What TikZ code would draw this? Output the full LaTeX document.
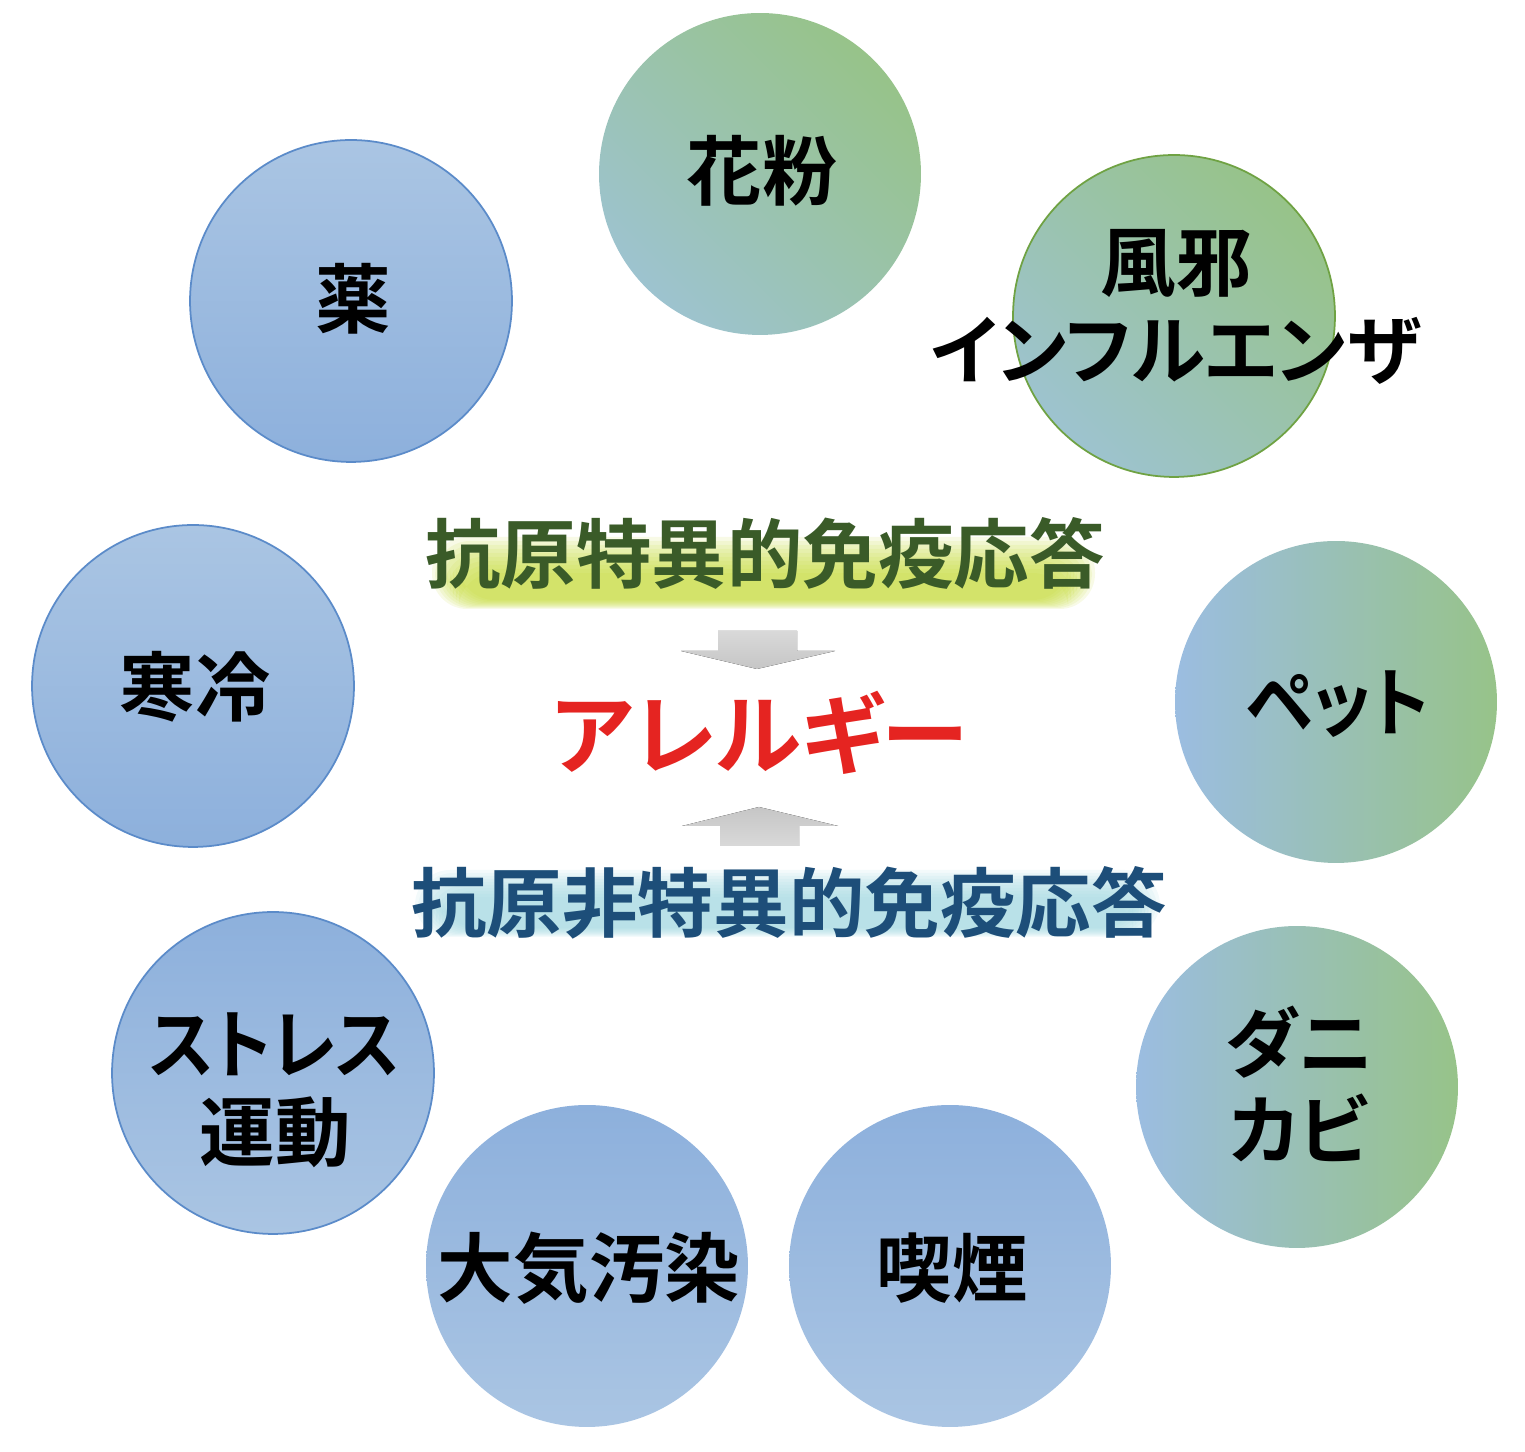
\documentclass[tikz,border=0pt]{standalone}
\usepackage{fontspec}
\setmainfont{Noto Sans CJK JP}[BoldFont={Noto Sans CJK JP Bold}, RawFeature=+palt]
\newfontfamily\narrowkana{Noto Sans CJK JP}[BoldFont={Noto Sans CJK JP Bold}, RawFeature=+palt, FakeStretch=0.91]
\definecolor{blueL}{HTML}{AAC5E3}
\definecolor{blueD}{HTML}{8DB0DC}
\definecolor{blueline}{HTML}{5B8BC9}
\definecolor{leafgreen}{HTML}{97C389}
\definecolor{teal}{HTML}{9DC3CF}
\definecolor{skyblue}{HTML}{9BBDE1}
\definecolor{kazeline}{HTML}{6FA243}
\definecolor{glowgreen}{HTML}{C2D932}
\definecolor{glowcyan}{HTML}{9ED6DF}
\definecolor{txtgreen}{HTML}{3A5B28}
\definecolor{txtblue}{HTML}{1D4E79}
\definecolor{txtred}{HTML}{E52421}
\begin{document}
\begin{tikzpicture}[x = 0.02cm, y = 0.02cm,
	ball/.style = {circle, minimum size = 6.44cm, inner sep = 0pt},
	bluerim/.style = {draw = blueline, line width = 1pt},
	word/.style = {font = \fontsize{43}{50}\selectfont\bfseries, align = center, inner sep = 0pt}]
	\useasboundingbox (0, 0) rectangle (1525, 1452);
	% soft glow under the two headings
	\foreach \i in {0,...,9}{
		\fill [glowgreen, opacity = 0.12, rounded corners = 20] (432 + 3*\i, 843 + \i) rectangle (1095 - 3*\i, 915 - 4*\i);
		\fill [glowcyan, opacity = 0.12, rounded corners = 20] (415 + 3*\i, 515 + \i) rectangle (1160 - 3*\i, 582 - 3*\i);}
	% circles
	\node [ball, top color = leafgreen, bottom color = teal, shading angle = -45] (kafun) at (760, 1278) {};
	\node [ball, top color = leafgreen, bottom color = teal, shading angle = -45, draw = kazeline, line width = 1pt] (kaze) at (1174, 1136) {};
	\node [ball, bluerim, top color = blueL, bottom color = blueD] (kusuri) at (351, 1151) {};
	\node [ball, bluerim, top color = blueL, bottom color = blueD] (kanrei) at (193, 766) {};
	\node [ball, left color = skyblue, right color = leafgreen] (petto) at (1336, 750) {};
	\node [ball, left color = skyblue, right color = leafgreen] (dani) at (1297, 365) {};
	\node [ball, bluerim, top color = blueD, bottom color = blueL] (stress) at (273, 379) {};
	\node [ball, top color = blueD, bottom color = blueL] (taiki) at (587, 186) {};
	\node [ball, top color = blueD, bottom color = blueL] (kitsuen) at (950, 186) {};
	% circle texts
	\foreach \name/\dy/\txt in {kafun/3/花粉, kaze/9/{風邪\\インフルエンザ}, kusuri/2/薬, kanrei/-1/寒冷, petto/-2/{{\narrowkana ペット}}, dani/3/{ダニ\\カビ}, stress/-17/{{\narrowkana ストレス}\\運動}, taiki/-2/大気汚染, kitsuen/-2/喫煙}{
		\node [word] (\name-t) at ([shift = {(2, \dy)}] \name) {\txt};}
	% middle part
	\node [word, text = txtgreen] (specific) at (765, 899) {抗原特異的免疫応答};
	\node [word, text = txtred, font = \fontsize{50}{50}\selectfont\bfseries] (allergy) at (760, 719) {アレルギー};
	\node [word, text = txtblue] (nonspecific) at (789, 549) {抗原非特異的免疫応答};
	\fill [top color = gray!30, bottom color = gray!45] (718, 821) -- (797, 821) -- (797, 801) -- (835, 801) -- (757, 783) -- (681, 801) -- (718, 801) -- cycle;
	\fill [top color = gray!45, bottom color = gray!30] (720, 606) -- (799, 606) -- (799, 626) -- (838, 626) -- (759, 645) -- (682, 626) -- (720, 626) -- cycle;
\end{tikzpicture}
\end{document}
